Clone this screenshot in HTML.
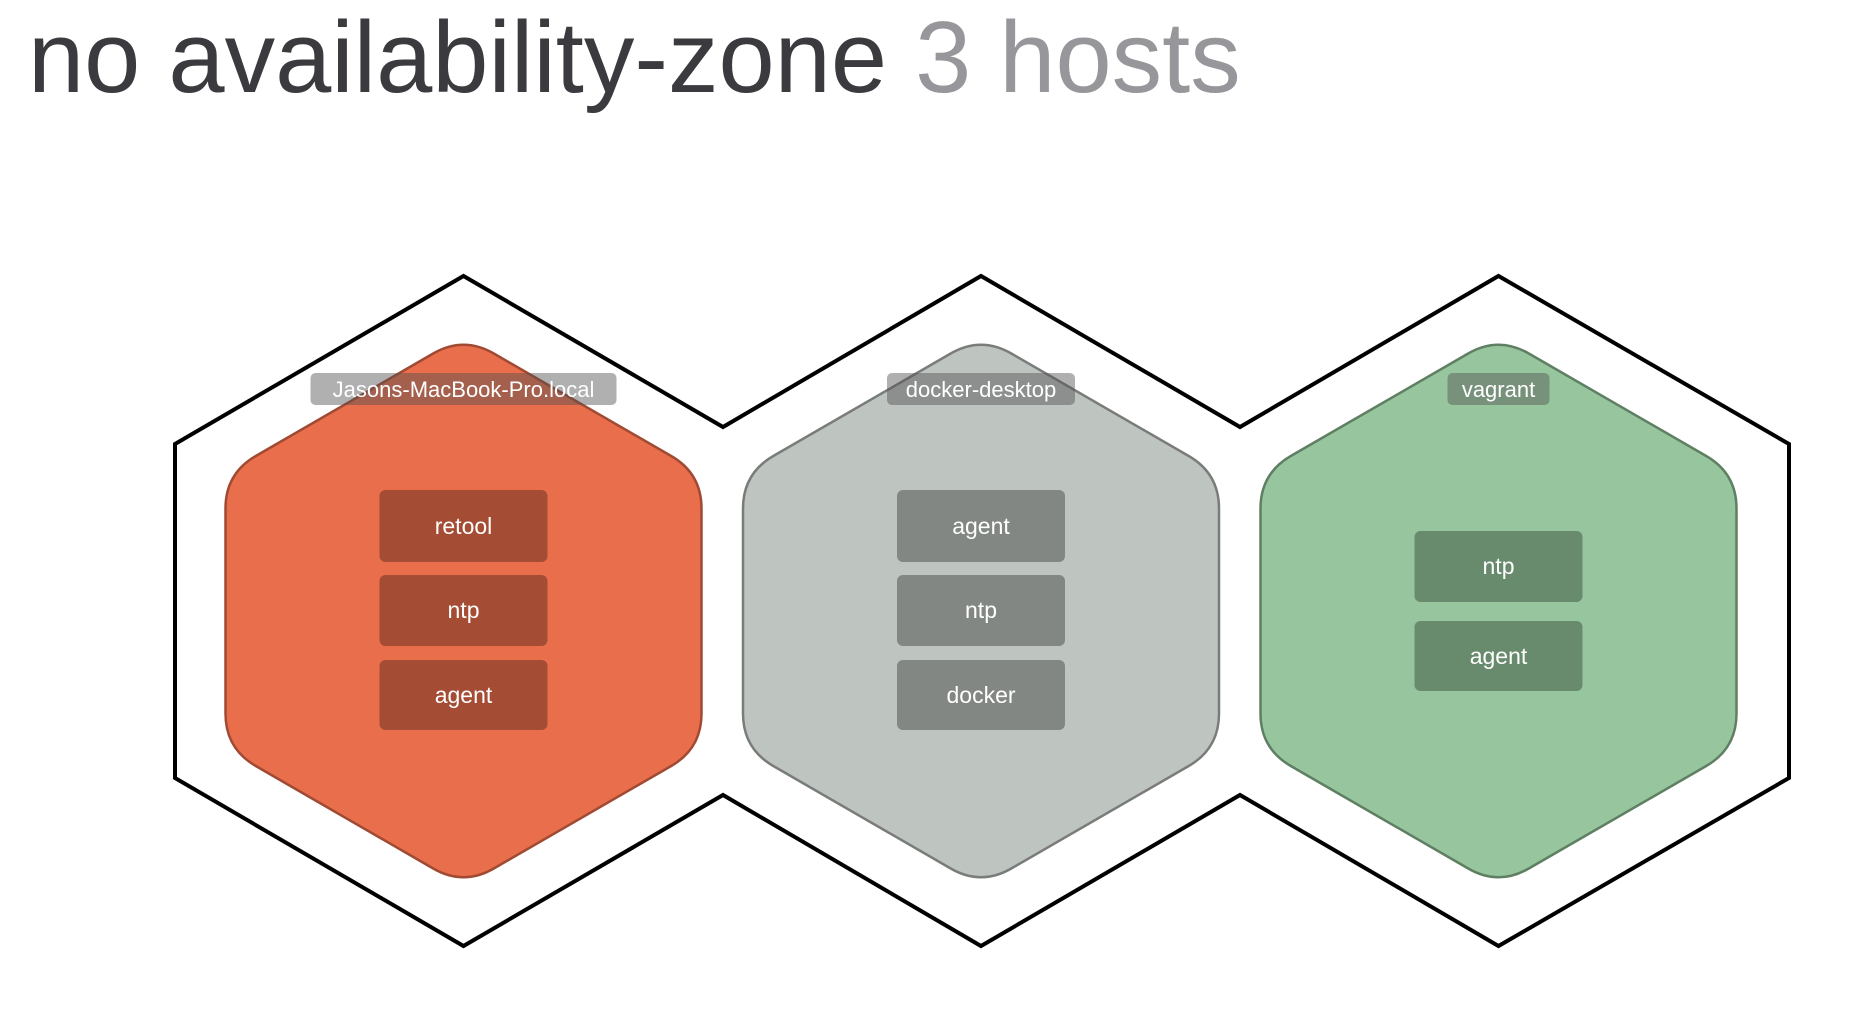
<!DOCTYPE html>
<html><head><meta charset="utf-8"><style>
html,body{margin:0;padding:0;background:#fff;width:1870px;height:1024px;overflow:hidden}
</style></head><body>
<svg width="1870" height="1024" viewBox="0 0 1870 1024" xmlns="http://www.w3.org/2000/svg" font-family="'Liberation Sans', sans-serif">
<text x="28" y="92" font-size="101" fill="#3a3a3f">no availability-zone <tspan fill="#97979b">3 hosts</tspan></text>
<polygon points="175,444 463.5,276 723,427 981,276 1240,427 1498.5,276 1789,444 1789,778 1498.5,946 1240,795 981,946 723,795 463.5,946 175,778" fill="none" stroke="#000" stroke-width="4" stroke-linejoin="miter"/>
<defs>
<path id="hx" d="M30.3,353.5 L207.7,456 Q238,473.5 238,508.5 L238,713.5 Q238,748.5 207.7,766 L30.3,868.5 Q0,886 -30.3,868.5 L-207.7,766 Q-238,748.5 -238,713.5 L-238,508.5 Q-238,473.5 -207.7,456 L-30.3,353.5 Q0,336 30.3,353.5 Z"/>
</defs>
<g transform="translate(463.5,0)">
<use href="#hx" fill="#e96e4c" stroke="#a04a33" stroke-width="2.5"/>
<rect x="-153" y="373" width="306" height="32" rx="5" fill="rgba(80,80,80,0.45)"/>
<text x="0" y="397" font-size="22" fill="#fff" text-anchor="middle">Jasons-MacBook-Pro.local</text>
<g fill="#a54c35"><rect x="-84" y="490" width="168" height="72" rx="6"/><rect x="-84" y="575" width="168" height="71" rx="6"/><rect x="-84" y="660" width="168" height="70" rx="6"/></g>
<g font-size="23" fill="#fff" text-anchor="middle"><text x="0" y="534">retool</text><text x="0" y="618">ntp</text><text x="0" y="703">agent</text></g>
</g>
<g transform="translate(981,0)">
<use href="#hx" fill="#bec4bf" stroke="#7a7c7a" stroke-width="2.5"/>
<rect x="-94" y="373" width="188" height="32" rx="5" fill="rgba(80,80,80,0.45)"/>
<text x="0" y="397" font-size="22" fill="#fff" text-anchor="middle">docker-desktop</text>
<g fill="#838783"><rect x="-84" y="490" width="168" height="72" rx="6"/><rect x="-84" y="575" width="168" height="71" rx="6"/><rect x="-84" y="660" width="168" height="70" rx="6"/></g>
<g font-size="23" fill="#fff" text-anchor="middle"><text x="0" y="534">agent</text><text x="0" y="618">ntp</text><text x="0" y="703">docker</text></g>
</g>
<g transform="translate(1498.5,0)">
<use href="#hx" fill="#97c69e" stroke="#5f7f63" stroke-width="2.5"/>
<rect x="-51" y="373" width="102" height="32" rx="5" fill="rgba(80,80,80,0.45)"/>
<text x="0" y="397" font-size="22" fill="#fff" text-anchor="middle">vagrant</text>
<g fill="#688a6d"><rect x="-84" y="531" width="168" height="71" rx="6"/><rect x="-84" y="621" width="168" height="70" rx="6"/></g>
<g font-size="23" fill="#fff" text-anchor="middle"><text x="0" y="574">ntp</text><text x="0" y="664">agent</text></g>
</g>
</svg>
</body></html>
